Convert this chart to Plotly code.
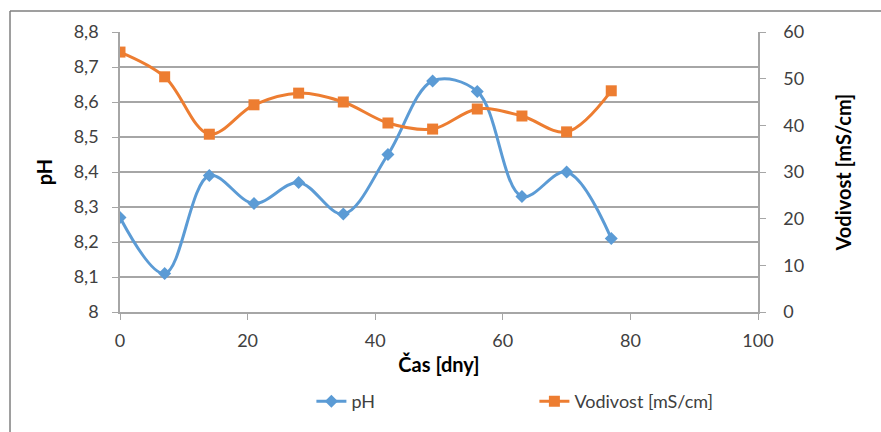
import plotly.graph_objects as go

days = [0, 7, 14, 21, 28, 35, 42, 49, 56, 63, 70, 77]
ph = [8.27, 8.11, 8.39, 8.31, 8.37, 8.28, 8.45, 8.66, 8.63, 8.33, 8.40, 8.21]
vodivost = [55.7, 50.4, 38.1, 44.4, 46.9, 45.0, 40.5, 39.2, 43.5, 42.0, 38.6, 47.4]

ph_name = "pH"
vod_name = "Vodivost [mS/cm]"
x_title = "Čas [dny]"

BLUE = "#5B9BD5"
ORANGE = "#ED7D31"
FONT = "Lato"
GRID = "#a6a6a6"
AXIS = "#a6a6a6"
TXT = "#404040"

fig = go.Figure()
fig.add_trace(go.Scatter(
    x=days, y=ph, name=ph_name, mode="lines+markers",
    line=dict(color=BLUE, width=3, shape="spline", smoothing=1.0),
    marker=dict(symbol="diamond", size=10, color=BLUE),
    yaxis="y"))
fig.add_trace(go.Scatter(
    x=days, y=vodivost, name=vod_name, mode="lines+markers",
    line=dict(color=ORANGE, width=3, shape="spline", smoothing=1.0),
    marker=dict(symbol="square", size=11, color=ORANGE),
    yaxis="y2"))

fig.update_layout(
    width=881, height=432,
    margin=dict(l=120, r=123, t=32, b=120),
    paper_bgcolor="white", plot_bgcolor="white",
    separators=", ",
    font=dict(family=FONT, size=18, color=TXT),
    showlegend=True,
    legend=dict(orientation="h", x=0.30, xanchor="left", y=-0.32, yanchor="middle",
                entrywidth=178, font=dict(size=18, color=TXT),
                bgcolor="rgba(0,0,0,0)"),
    xaxis=dict(range=[0, 100], tickvals=[0, 20, 40, 60, 80, 100],
               showgrid=False, zeroline=False, automargin=False,
               showline=True, linecolor=AXIS, linewidth=1.5,
               ticks="outside", ticklen=6, tickcolor=AXIS, ticklabelstandoff=6,
               title=dict(text="<b>" + x_title + "</b>", standoff=8,
                          font=dict(size=20, color="black"))),
    yaxis=dict(range=[8, 8.8], dtick=0.1, tickformat=".1~f", automargin=False,
               showgrid=True, gridcolor=GRID, gridwidth=1.5,
               zeroline=False, showline=True, linecolor=AXIS, linewidth=1.5,
               ticks="outside", ticklen=6, tickcolor=AXIS, ticklabelstandoff=10,
               title=dict(text="<b>pH</b>", standoff=16,
                          font=dict(size=20, color="black"))),
    yaxis2=dict(range=[0, 60], dtick=10, overlaying="y", side="right",
                showgrid=False, zeroline=False, automargin=False,
                showline=True, linecolor=AXIS, linewidth=1.5,
                ticks="outside", ticklen=6, tickcolor=AXIS, ticklabelstandoff=14,
                title=dict(text="<b>" + vod_name + "</b>", standoff=34,
                           font=dict(size=20, color="black"))),
    shapes=[
        dict(type="line", xref="paper", yref="paper",
             x0=-0.1724, x1=-0.1724, y0=-0.45, y1=1.075,
             line=dict(color="#7f7f7f", width=1.5)),
        dict(type="line", xref="paper", yref="paper",
             x0=-0.1724, x1=1.25, y0=1.075, y1=1.075,
             line=dict(color="#7f7f7f", width=1.5)),
    ],
)

fig.write_html("out.html")
